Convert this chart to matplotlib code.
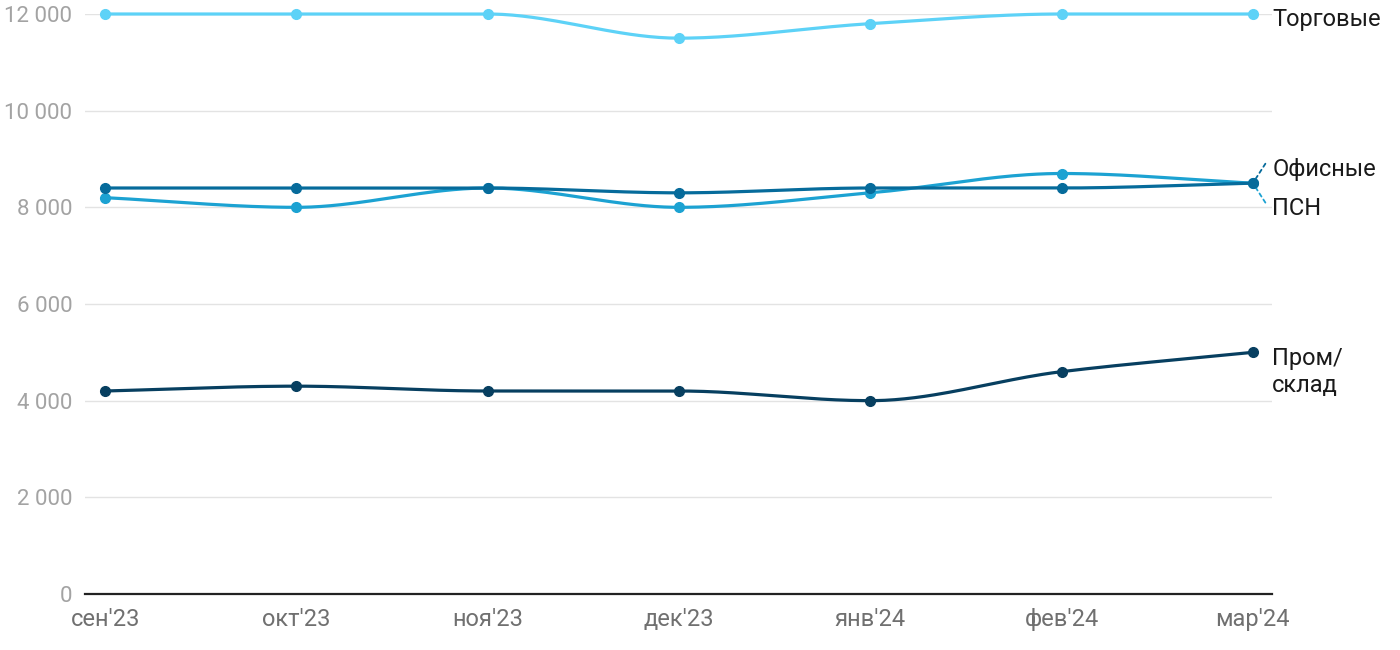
import matplotlib
matplotlib.use("Agg")
import matplotlib.pyplot as plt
import numpy as np

# data
months = ["сен'23", "окт'23", "ноя'23", "дек'23", "янв'24", "фев'24", "мар'24"]
trade = [12000, 12000, 12000, 11500, 11800, 12000, 12000]     # Торговые
office = [8400, 8400, 8400, 8300, 8400, 8400, 8500]           # Офисные
psn = [8200, 8000, 8400, 8000, 8300, 8700, 8500]              # ПСН
industrial = [4200, 4300, 4200, 4200, 4000, 4600, 5000]       # Пром/склад
yticks = [0, 2000, 4000, 6000, 8000, 10000, 12000]
ytick_labels = ["0", "2 000", "4 000", "6 000", "8 000", "10 000", "12 000"]

# colours
c_trade = "#5dd2f7"
c_office = "#066b9b"
c_psn = "#1ca2d2"
c_ind = "#073f60"

plt.rcParams["font.family"] = ["Roboto", "DejaVu Sans"]


def monotone_curve(x, y, n=40):
    # Fritsch-Carlson monotone cubic, only for drawing the smooth line
    x = np.asarray(x, float)
    y = np.asarray(y, float)
    h = np.diff(x)
    d = np.diff(y) / h
    m = np.zeros_like(y)
    m[0] = d[0]
    m[-1] = d[-1]
    for i in range(1, len(y) - 1):
        if d[i - 1] * d[i] <= 0:
            m[i] = 0
        else:
            w1 = 2 * h[i] + h[i - 1]
            w2 = h[i] + 2 * h[i - 1]
            m[i] = (w1 + w2) / (w1 / d[i - 1] + w2 / d[i])
    xs, ys = [], []
    for i in range(len(x) - 1):
        t = np.linspace(0, 1, n)
        h00 = 2 * t**3 - 3 * t**2 + 1
        h10 = t**3 - 2 * t**2 + t
        h01 = -2 * t**3 + 3 * t**2
        h11 = t**3 - t**2
        xs.append(x[i] + t * h[i])
        ys.append(h00 * y[i] + h10 * h[i] * m[i] + h01 * y[i + 1] + h11 * h[i] * m[i + 1])
    return np.concatenate(xs), np.concatenate(ys)


fig = plt.figure(figsize=(14, 6.5), dpi=100)
ax = fig.add_axes([85 / 1400, 1 - 594 / 650, (1272 - 85) / 1400, (594 - 14) / 650])

x = np.arange(len(months))
for vals, col in [(industrial, c_ind), (psn, c_psn), (office, c_office), (trade, c_trade)]:
    cx, cy = monotone_curve(x, vals)
    ax.plot(cx, cy, color=col, lw=2.3, solid_capstyle="round", clip_on=False, zorder=3)
    ax.plot(x, vals, "o", color=col, ms=7, clip_on=False, zorder=4)

ax.set_xlim(-0.105, 6.1)
ax.set_ylim(0, 12000)
ax.set_yticks(yticks)
ax.set_yticklabels(ytick_labels)
ax.set_xticks(x)
ax.set_xticklabels(months)
ax.tick_params(axis="y", length=0, pad=9, labelsize=16, labelcolor="#a3a3a3")
ax.tick_params(axis="x", length=0, pad=10, labelsize=17, labelcolor="#707070")
for s in ["top", "right", "left"]:
    ax.spines[s].set_visible(False)
ax.spines["bottom"].set_color("#222222")
ax.spines["bottom"].set_linewidth(1.6)
ax.spines["bottom"].set_zorder(5)
ax.grid(axis="y", color="#e3e3e3", lw=1)
ax.set_axisbelow(True)

# end labels
lx = x[-1]
ax.annotate("Торговые", (lx, trade[-1]), xytext=(14, -4), textcoords="offset points",
            fontsize=17, color="#1a1a1a", va="center", ha="left")
ax.annotate("Офисные", (lx, office[-1]), xytext=(14, 10), textcoords="offset points",
            fontsize=17, color="#1a1a1a", va="center", ha="left")
ax.annotate("ПСН", (lx, psn[-1]), xytext=(14, -18), textcoords="offset points",
            fontsize=17, color="#1a1a1a", va="center", ha="left")
ax.annotate("Пром/\nсклад", (lx, industrial[-1]), xytext=(14, -14), textcoords="offset points",
            fontsize=17, color="#1a1a1a", va="center", ha="left", linespacing=1.2)
# dashed connectors for the two overlapping end points
ax.annotate("", (lx, office[-1]), xytext=(9, 14), textcoords="offset points",
            arrowprops=dict(arrowstyle="-", color=c_office, lw=1.3, ls=(0, (2, 2)),
                            shrinkA=0, shrinkB=3))
ax.annotate("", (lx, psn[-1]), xytext=(9, -14), textcoords="offset points",
            arrowprops=dict(arrowstyle="-", color=c_psn, lw=1.3, ls=(0, (2, 2)),
                            shrinkA=0, shrinkB=3))

fig.savefig("out.png", dpi=100)
